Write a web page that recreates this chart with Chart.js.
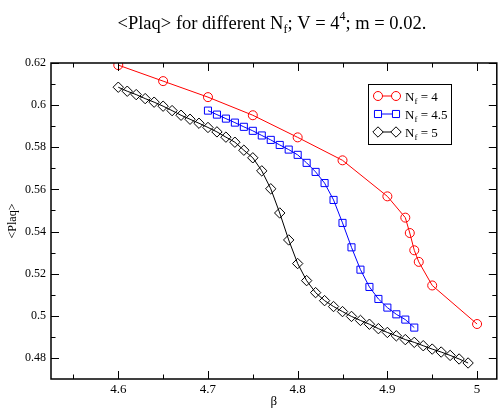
<!DOCTYPE html>
<html><head><meta charset="utf-8">
<script src="https://cdn.jsdelivr.net/npm/chart.js@4"></script>
<style>html,body{margin:0;padding:0;background:#fff}#wrap{width:503px;height:409px}</style>
</head><body><div id="wrap"><canvas id="c" width="503" height="409"></canvas></div>
<script>
// ---- data ----
const betaNf4 = [4.6, 4.65, 4.7, 4.75, 4.8, 4.85, 4.9, 4.92, 4.925, 4.93, 4.935, 4.95, 5.0];
const plaqNf4 = [0.619, 0.6114, 0.6038, 0.5952, 0.5847, 0.5738, 0.5567, 0.5466, 0.5393, 0.5311, 0.5256, 0.5144, 0.4961];

const betaNf45 = [4.70,4.71,4.72,4.73,4.74,4.75,4.76,4.77,4.78,4.79,4.80,4.81,4.82,4.83,4.84,4.85,4.86,4.87,4.88,4.89,4.90,4.91,4.92,4.93];
const plaqNf45 = [0.5974,0.5955,0.5936,0.5917,0.5897,0.5878,0.5856,0.5835,0.5811,0.5789,0.5764,0.5726,0.5683,0.5630,0.5550,0.5441,0.5325,0.5219,0.5137,0.5080,0.5039,0.5007,0.4982,0.4944];

const betaNf5 = [4.60,4.61,4.62,4.63,4.64,4.65,4.66,4.67,4.68,4.69,4.70,4.71,4.72,4.73,4.74,4.75,4.76,4.77,4.78,4.79,4.80,4.81,4.82,4.83,4.84,4.85,4.86,4.87,4.88,4.89,4.90,4.91,4.92,4.93,4.94,4.95,4.96,4.97,4.98,4.99];
const plaqNf5 = [0.6085,0.6066,0.6050,0.6031,0.6014,0.5995,0.5974,0.5952,0.5933,0.5914,0.5894,0.5873,0.5848,0.5824,0.5786,0.5750,0.5688,0.5603,0.5488,0.5360,0.5248,0.5167,0.5110,0.5072,0.5044,0.5020,0.4997,0.4978,0.4960,0.4939,0.4921,0.4905,0.4887,0.4874,0.4858,0.4842,0.4828,0.4812,0.4795,0.4776];

const xMajorTicks = [4.6, 4.7, 4.8, 4.9, 5.0];
const xMinorTicks = [4.55, 4.65, 4.75, 4.85, 4.95];
const yMajorTicks = [0.48, 0.50, 0.52, 0.54, 0.56, 0.58, 0.60, 0.62];
const yMinorTicks = [0.49, 0.51, 0.53, 0.55, 0.57, 0.59, 0.61];

const seriesNames = ['4', '4.5', '5'];
const seriesColors = ['#ff0000', '#0000ff', '#000000'];
const seriesStyles = ['circle', 'rect', 'rectRot'];
const seriesRadius = [4.5, 5, 5.2];

const SERIF = '"Liberation Serif", "DejaVu Serif", serif';

function pts(xs, ys) { return xs.map((x, i) => ({ x: x, y: ys[i] })); }
function fmt(v) { return String(Number(v.toFixed(3))); }

const datasetsSrc = [[betaNf4, plaqNf4], [betaNf45, plaqNf45], [betaNf5, plaqNf5]];
const datasets = datasetsSrc.map((d, i) => ({
  label: 'Nf = ' + seriesNames[i],
  data: pts(d[0], d[1]),
  showLine: true,
  borderColor: seriesColors[i],
  borderWidth: 1,
  pointStyle: seriesStyles[i],
  pointRadius: seriesRadius[i],
  pointBorderColor: seriesColors[i],
  pointBackgroundColor: 'rgba(0,0,0,0)',
  pointBorderWidth: 1,
  tension: 0
}));

function drawRich(ctx, parts, x, y, align) {
  let total = 0;
  const widths = parts.map(p => { ctx.font = p[1] + 'px ' + SERIF; const w = ctx.measureText(p[0]).width; total += w; return w; });
  let cx = align === 'center' ? x - total / 2 : x;
  ctx.textBaseline = 'alphabetic';
  ctx.textAlign = 'left';
  parts.forEach((p, i) => { ctx.font = p[1] + 'px ' + SERIF; ctx.fillText(p[0], cx, y + p[2]); cx += widths[i]; });
}

const decor = {
  id: 'decor',
  afterDatasetsDraw(chart) {
    const ctx = chart.ctx, a = chart.chartArea, xs = chart.scales.x, ys = chart.scales.y;
    ctx.save();
    ctx.strokeStyle = '#000';
    ctx.lineWidth = 1;
    const tick = (vals, len, isX) => {
      vals.forEach(v => {
        ctx.beginPath();
        if (isX) {
          const p = Math.round(xs.getPixelForValue(v)) + 0.5;
          ctx.moveTo(p, a.bottom); ctx.lineTo(p, a.bottom - len);
          ctx.moveTo(p, a.top); ctx.lineTo(p, a.top + len);
        } else {
          const p = Math.round(ys.getPixelForValue(v)) + 0.5;
          ctx.moveTo(a.left, p); ctx.lineTo(a.left + len, p);
          ctx.moveTo(a.right, p); ctx.lineTo(a.right - len, p);
        }
        ctx.stroke();
      });
    };
    tick(xMajorTicks, 8, true); tick(xMinorTicks, 4.5, true);
    tick(yMajorTicks, 8, false); tick(yMinorTicks, 4.5, false);
    ctx.lineWidth = 1.5;
    ctx.strokeRect(a.left, a.top, a.right - a.left, a.bottom - a.top);
    ctx.restore();
  },
  afterDraw(chart) {
    const ctx = chart.ctx, a = chart.chartArea;
    ctx.save();
    ctx.fillStyle = '#000';
    // title
    drawRich(ctx, [['<Plaq> for different N', 18.5, 0], ['f', 12, 4.5], ['; V = 4', 18.5, 0], ['4', 12, -9], ['; m = 0.02.', 18.5, 0]], (a.left + a.right) / 2 - 2, 28.5, 'center');
    // axis titles
    ctx.font = '13px ' + SERIF; ctx.textAlign = 'center'; ctx.textBaseline = 'middle';
    ctx.fillText('\u03B2', (a.left + a.right) / 2, 402);
    ctx.save();
    ctx.translate(13, (a.top + a.bottom) / 2);
    ctx.rotate(-Math.PI / 2);
    ctx.font = '12px ' + SERIF;
    ctx.fillText('<Plaq>', 0, 0);
    ctx.restore();
    // legend
    const bx = 368, by = 84, bw = 83, bh = 60;
    ctx.fillStyle = '#fff'; ctx.fillRect(bx, by, bw, bh);
    ctx.strokeStyle = '#000'; ctx.lineWidth = 1; ctx.strokeRect(bx + 0.5, by + 0.5, bw, bh);
    const rowY = [96, 114, 132];
    chart.data.datasets.forEach((ds, i) => {
      const y = rowY[i], x1 = 378, x2 = 396;
      ctx.strokeStyle = ds.borderColor; ctx.lineWidth = 1;
      ctx.beginPath(); ctx.moveTo(x1, y); ctx.lineTo(x2, y); ctx.stroke();
      [x1, x2].forEach(px => {
        ctx.fillStyle = '#fff';
        ctx.strokeStyle = ds.borderColor;
        ctx.lineWidth = 1;
        Chart.helpers.drawPoint(ctx, { pointStyle: ds.pointStyle, radius: ds.pointRadius, borderWidth: 1, rotation: 0 }, px, y);
      });
      ctx.fillStyle = '#000';
      drawRich(ctx, [['N', 13, 0], ['f', 9, 3], [' = ' + seriesNames[i], 13, 0]], 405, y + 4.5, 'left');
    });
    ctx.restore();
  }
};

new Chart(document.getElementById('c'), {
  type: 'scatter',
  data: { datasets: datasets },
  options: {
    responsive: false,
    animation: false,
    devicePixelRatio: 1,
    layout: { padding: { top: 63, right: 1.5, left: 0, bottom: 0 } },
    plugins: { legend: { display: false }, title: { display: false }, tooltip: { enabled: false } },
    scales: {
      x: {
        type: 'linear', min: 4.525, max: 5.022,
        afterBuildTicks: s => { s.ticks = xMajorTicks.map(v => ({ value: v })); },
        afterFit: s => { s.height = 30; },
        grid: { display: false, drawTicks: false },
        border: { display: false },
        ticks: { padding: 3, color: '#000', font: { family: SERIF, size: 13 }, callback: v => fmt(v), maxRotation: 0, autoSkip: false }
      },
      y: {
        type: 'linear', min: 0.47, max: 0.62,
        afterBuildTicks: s => { s.ticks = yMajorTicks.map(v => ({ value: v })); },
        afterFit: s => { s.width = 51; },
        grid: { display: false, drawTicks: false },
        border: { display: false },
        ticks: { padding: 5, color: '#000', font: { family: SERIF, size: 12 }, callback: v => fmt(v), autoSkip: false }
      }
    }
  },
  plugins: [decor]
});
</script></body></html>
